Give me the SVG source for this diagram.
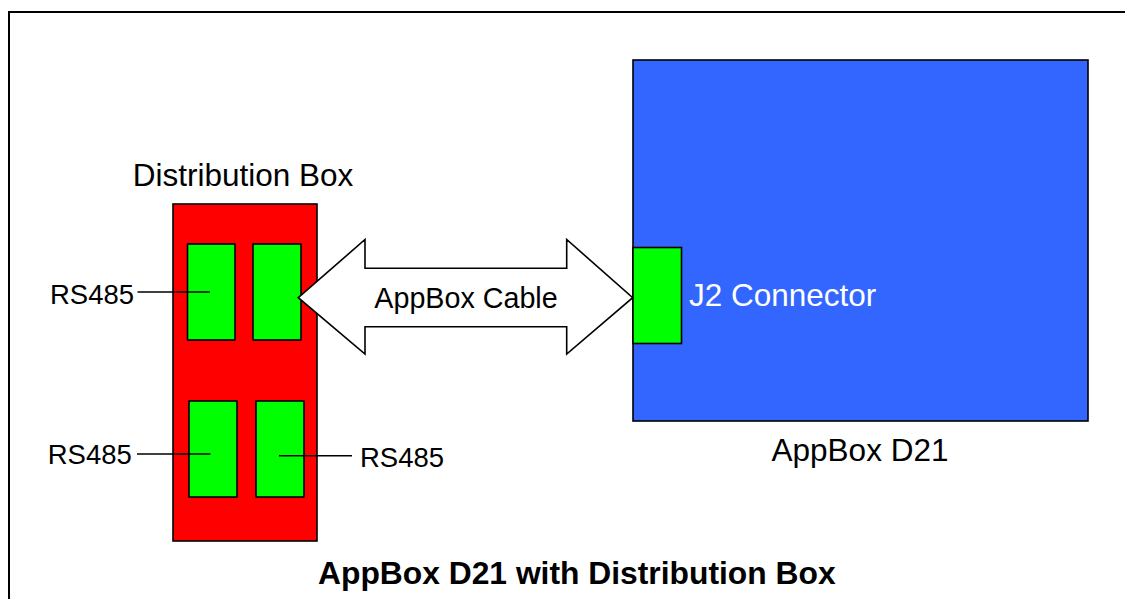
<svg xmlns="http://www.w3.org/2000/svg" width="1125" height="599" viewBox="0 0 1125 599">
<style>
.box{stroke:#000;stroke-width:1.6}
.red{fill:#FF0000}
.green{fill:#00FF00}
.blue{fill:#3366FF}
.t{font-family:"Liberation Sans",Arial,sans-serif;fill:#000}
.lbl{font-size:31.5px}
.rs{font-size:27.5px}
.ln{stroke:#000;stroke-width:1.6;fill:none}
</style>
<rect width="1125" height="599" fill="#fff"/>
<rect x="9" y="12" width="1130" height="600" fill="none" stroke="#000" stroke-width="2"/>
<g id="appbox">
<rect class="box blue" x="633" y="60" width="455" height="361"/>
<text class="t lbl" x="860" y="461" text-anchor="middle">AppBox D21</text>
</g>
<g id="j2">
<rect class="box green" x="633" y="247.5" width="48.5" height="96"/>
<text class="t lbl" x="689" y="305.5" style="fill:#fff">J2 Connector</text>
</g>
<g id="distbox">
<rect class="box red" x="173" y="204" width="144" height="337"/>
<text class="t lbl" x="243" y="186" text-anchor="middle">Distribution Box</text>
</g>
<g id="port1"><rect class="box green" x="187.5" y="244" width="47.5" height="96"/></g>
<g id="port2"><rect class="box green" x="253" y="244" width="48" height="96"/></g>
<g id="port3"><rect class="box green" x="189" y="401" width="48" height="96"/></g>
<g id="port4"><rect class="box green" x="256" y="401" width="48" height="96"/></g>
<g id="connectors">
<polygon points="298.3,297.7 365,239.5 365,268.3 566.7,268.3 566.7,239.5 632.7,297.7 566.7,354 566.7,326.7 365,326.7 365,354" fill="#fff" stroke="#000" stroke-width="1.6" stroke-linejoin="miter"/>
<line class="ln" x1="137.5" y1="292" x2="210" y2="292"/>
<line class="ln" x1="137" y1="454" x2="210.5" y2="454"/>
<line class="ln" x1="279" y1="455.7" x2="352" y2="455.7"/>
</g>
<g id="labels">
<text class="t" x="374.3" y="307.7" style="font-size:28.7px">AppBox Cable</text>
<text class="t rs" x="50" y="304">RS485</text>
<text class="t rs" x="47.7" y="464">RS485</text>
<text class="t rs" x="360" y="466.7">RS485</text>
</g>
<text id="title" class="t" x="318" y="584" style="font-size:31.8px;font-weight:bold">AppBox D21 with Distribution Box</text>
</svg>
